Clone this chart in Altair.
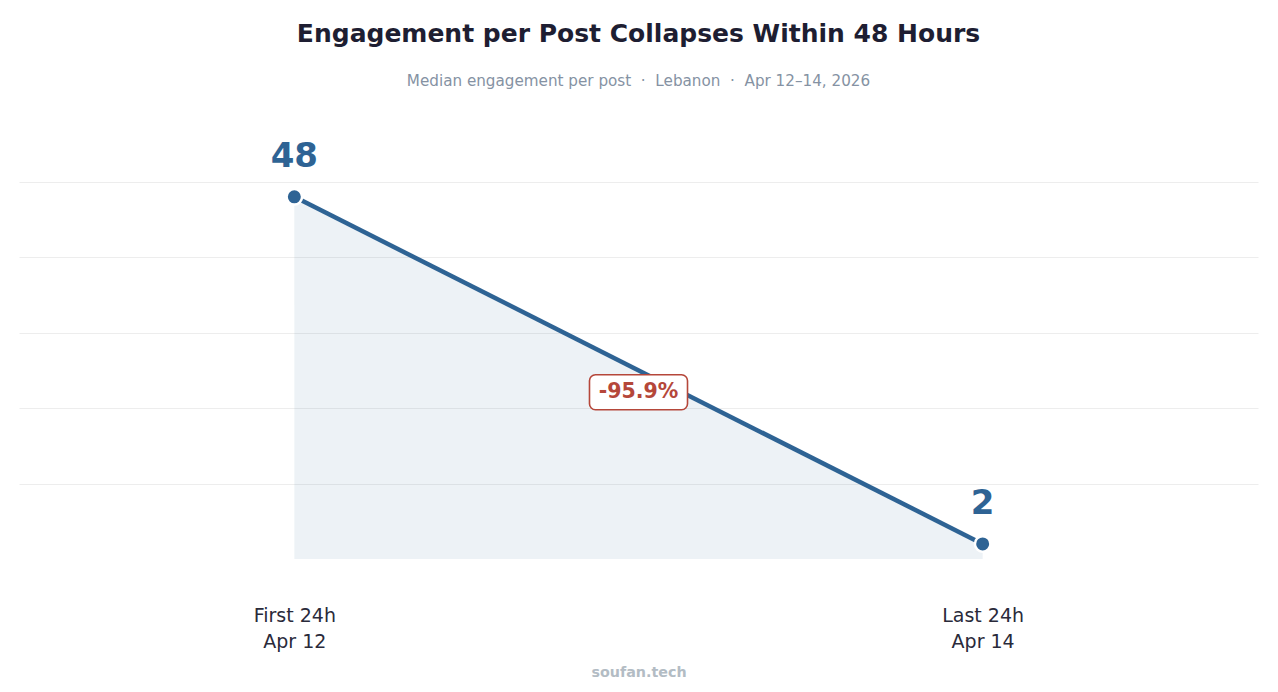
import altair as alt
import pandas as pd

# ---- data ----
periods = ["First 24h", "Last 24h"]
dates = ["Apr 12", "Apr 14"]
positions = [0, 1]
values = [48, 2]
labels = ["48", "2"]

ann_x = [0.5]
ann_y = [22.1]
ann_text = ["-95.9%"]

grid_values = [10, 20, 30, 40, 50]

BLUE = "#2e6394"
RED = "#b5473a"
FONT = "DejaVu Sans"
SEP = "\u00a0\u00a0·\u00a0\u00a0"

df = pd.DataFrame({"pos": positions, "value": values, "label": labels,
                   "period": periods, "date": dates})
ann = pd.DataFrame({"x": ann_x, "y": ann_y, "text": ann_text})

label_expr = " : ".join(
    f"datum.value == {p} ? ['{a}', '{b}']" for p, a, b in zip(positions[:-1], periods[:-1], dates[:-1])
) + f" : ['{periods[-1]}', '{dates[-1]}']"

x_scale = alt.Scale(domain=[-0.4, 1.4], nice=False, zero=False)
y_scale = alt.Scale(domain=[0, 55], nice=False)

x_enc = alt.X("pos:Q", scale=x_scale,
              axis=alt.Axis(values=positions, labelExpr=label_expr, grid=False,
                            ticks=False, domain=False, labelFontSize=19,
                            labelColor="#2a2a3a", labelLineHeight=26,
                            labelPadding=47, labelBaseline="top",
                            title="soufan.tech", titleFontSize=14.3,
                            titleFontWeight="bold", titleColor="#b3bcc4",
                            titlePadding=14))
y_enc = alt.Y("value:Q", scale=y_scale,
              axis=alt.Axis(values=grid_values, labels=False, ticks=False,
                            domain=False, title=None, grid=True,
                            gridColor="#ededed", gridWidth=1))

base = alt.Chart(df)

area = base.mark_area(color=BLUE, opacity=0.085).encode(x=x_enc, y=y_enc)
line = base.mark_line(color=BLUE, strokeWidth=4.5).encode(x="pos:Q", y="value:Q")
points = base.mark_point(filled=True, fill=BLUE, stroke="white", strokeWidth=2.5,
                         size=240, opacity=1).encode(x="pos:Q", y="value:Q")
value_labels = base.transform_calculate(ly="datum.value + 5.3").mark_text(
    font=FONT, fontSize=34, fontWeight="bold", color=BLUE, baseline="middle"
).encode(x="pos:Q", y="ly:Q", text="label:N")

box = alt.Chart(ann).transform_calculate(
    x1="datum.x - 0.0712", x2="datum.x + 0.0712",
    y1="datum.y - 2.32", y2="datum.y + 2.32"
).mark_rect(fill="white", stroke=RED, strokeWidth=1.6, cornerRadius=6).encode(
    x="x1:Q", x2="x2:Q", y="y1:Q", y2="y2:Q")
box_text = alt.Chart(ann).mark_text(
    font=FONT, fontSize=20.5, fontWeight="bold", color=RED, baseline="middle"
).encode(x="x:Q", y="y:Q", text="text:N")

chart = alt.layer(area, line, points, value_labels, box, box_text).properties(
    width=1239, height=415,
    autosize=alt.AutoSizeParams(type="none"),
    padding={"left": 11, "top": 136, "right": 12, "bottom": 125},
    title=alt.TitleParams(
        text="Engagement per Post Collapses Within 48 Hours",
        subtitle=f"Median engagement per post{SEP}Lebanon{SEP}Apr 12–14, 2026",
        fontSize=25, fontWeight="bold", color="#1e1e32", font=FONT,
        subtitleFontSize=15.2, subtitleColor="#8592a3", subtitleFont=FONT,
        subtitlePadding=27, anchor="middle", offset=51,
    ),
).configure(font=FONT, background="white").configure_view(stroke=None)

chart.save("out.html", embed_options={"renderer": "svg", "actions": False})
